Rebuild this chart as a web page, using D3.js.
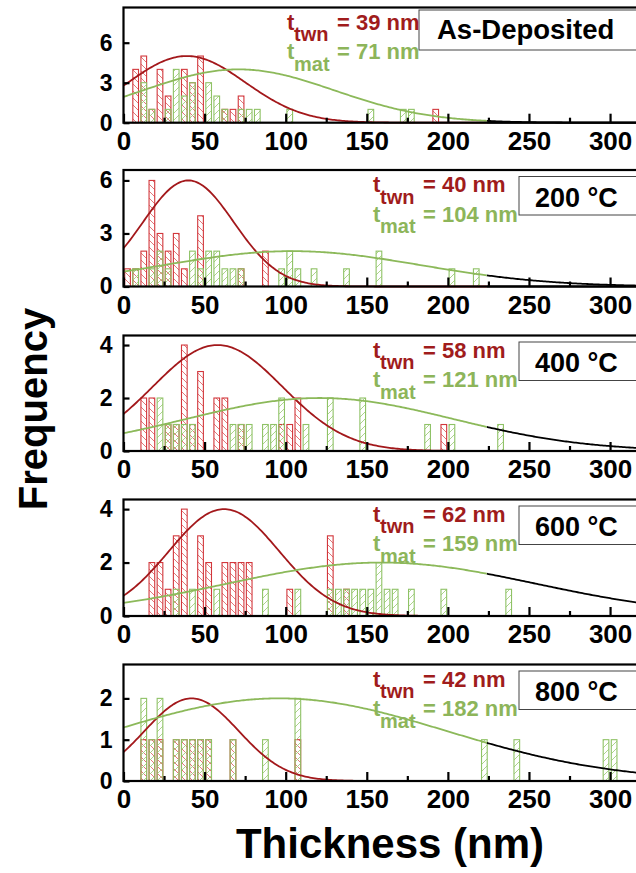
<!DOCTYPE html>
<html>
<head>
<meta charset="utf-8">
<script src="https://cdn.jsdelivr.net/npm/d3@7/dist/d3.min.js"></script>
<style>
  html, body { margin: 0; padding: 0; background: #fff; }
  svg { display: block; }
  text { font-family: "Liberation Sans", Arial, sans-serif; font-weight: bold; }
</style>
</head>
<body>
<svg id="chart" width="636" height="873"></svg>
<script>
// ---- data ---------------------------------------------------------------
// Panel titles (annealing condition)
const panelNames = ["As-Deposited", "200 \u00B0C", "400 \u00B0C", "600 \u00B0C", "800 \u00B0C"];
// Mean twin / matrix lamella thickness quoted in each panel (nm)
const twnMean = [39, 40, 58, 62, 42];
const matMean = [71, 104, 121, 159, 182];

// Histogram bins: [bin centre (nm), count], 5 nm bins
const twnAsDep = [[7.5,4],[12.5,5],[17.5,1],[22.5,4],[27.5,2],[37.5,4],[42.5,3],[47.5,5],[62.5,1],[67.5,1],[72.5,2],[192.5,1]];
const matAsDep = [[12.5,3],[17.5,1],[27.5,1],[32.5,4],[37.5,2],[42.5,3],[52.5,3],[57.5,2],[62.5,1],[72.5,1],[77.5,1],[82.5,1],[102.5,1],[152.5,1],[172.5,1],[177.5,1]];

const twn200 = [[2.5,1],[7.5,1],[12.5,2],[17.5,6],[22.5,3],[27.5,2],[32.5,3],[37.5,1],[47.5,4],[72.5,1],[87.5,2]];
const mat200 = [[7.5,1],[17.5,1],[22.5,2],[27.5,1],[42.5,2],[47.5,1],[52.5,2],[57.5,2],[62.5,1],[67.5,1],[72.5,1],[97.5,1],[102.5,2],[107.5,1],[117.5,1],[137.5,1],[157.5,2],[202.5,1],[217.5,1]];

const twn400 = [[12.5,2],[17.5,2],[27.5,1],[32.5,1],[37.5,4],[42.5,1],[47.5,3],[57.5,2],[62.5,2],[72.5,1],[97.5,1],[102.5,1],[107.5,2],[197.5,1]];
const mat400 = [[22.5,2],[27.5,1],[32.5,1],[37.5,1],[42.5,1],[67.5,1],[72.5,1],[77.5,1],[87.5,1],[92.5,1],[97.5,2],[112.5,1],[127.5,2],[147.5,2],[187.5,1],[202.5,1],[232.5,1]];

const twn600 = [[17.5,2],[22.5,2],[27.5,1],[32.5,3],[37.5,4],[47.5,3],[52.5,2],[62.5,2],[67.5,2],[72.5,2],[77.5,2],[102.5,1],[127.5,3],[137.5,1]];
const mat600 = [[32.5,1],[42.5,1],[57.5,1],[87.5,1],[107.5,1],[127.5,1],[132.5,1],[137.5,1],[142.5,1],[147.5,1],[152.5,1],[157.5,2],[162.5,1],[167.5,1],[177.5,1],[197.5,1],[237.5,1]];

const twn800 = [[12.5,1],[17.5,1],[22.5,1],[32.5,1],[37.5,1],[42.5,1],[47.5,1],[52.5,1],[67.5,1],[107.5,1]];
const mat800 = [[12.5,2],[17.5,1],[22.5,2],[32.5,1],[37.5,1],[42.5,1],[47.5,1],[52.5,1],[67.5,1],[87.5,1],[107.5,2],[222.5,1],[242.5,1],[297.5,1],[302.5,1]];

const twnBins = [twnAsDep, twn200, twn400, twn600, twn800];
const matBins = [matAsDep, mat200, mat400, mat600, mat800];

// Gaussian fits: centre (nm), peak height (counts), sigma (nm)
const twnFitCentre = [39, 40, 58, 62, 42];
const twnFitPeak   = [5, 6, 4, 4, 2];
const twnFitSigma  = [36, 28, 40, 34, 29];
const matFitCentre = [71, 104, 121, 159, 96];
const matFitPeak   = [4, 2, 2, 2, 2];
const matFitSigma  = [59, 79, 82, 95, 103];

// Axis ticks
const yTickVals = [[0,3,6],[0,3,6],[0,2,4],[0,2,4],[0,1,2]];
const yMax = [8.64, 6.59, 4.36, 4.36, 2.82];
const xLabelTicks = [0, 50, 100, 150, 200, 250, 300];
const xMinorTicks = [25, 75, 125, 175, 225, 275, 325];

// ---- layout ---------------------------------------------------------------
const panelTop  = [7.5, 170, 335.5, 499.5, 664.5];
const panelZero = [122.7, 286.5, 451, 616, 781];
const binWidth = 5, barFrac = 0.7, colourEnd = 224;

const C = {
  twnLine: "#a3181b", twnBar: "#d2373c", twnHatch: "#e0686b",
  matLine: "#8cb95a", matBar: "#8fc266", matHatch: "#a4cf80",
  twnText: "#a01c1c", matText: "#8db55a"
};

const svg = d3.select("#chart");
const x = d3.scaleLinear().domain([0, 320]).range([123.5, 642.5]);

// hatch patterns
const defs = svg.append("defs");
function hatch(id, colour, dir) {
  const p = defs.append("pattern").attr("id", id)
    .attr("patternUnits", "userSpaceOnUse").attr("width", 7).attr("height", 7);
  const d = dir > 0 ? "M-1,8 L8,-1 M-1,1 L1,-1 M6,8 L8,6" : "M-1,-1 L8,8 M-1,6 L1,8 M6,-1 L8,1";
  p.append("path").attr("d", d).attr("stroke", colour).attr("stroke-width", 0.9).attr("fill", "none");
}
hatch("hTwn", C.twnHatch, -1);
hatch("hMat", C.matHatch, 1);

const gauss = (c, a, s) => t => a * Math.exp(-((t - c) ** 2) / (2 * s * s));

panelNames.forEach((name, i) => {
  const y = d3.scaleLinear().domain([0, yMax[i]]).range([panelZero[i], panelTop[i]]);
  const g = svg.append("g");
  const [x0, x1] = x.range();

  const bw = x(binWidth * barFrac) - x(0);
  const bars = (data, fill, stroke) => g.append("g").selectAll("rect").data(data).join("rect")
    .attr("x", d => x(d[0]) - bw / 2).attr("width", bw)
    .attr("y", d => y(d[1])).attr("height", d => y(0) - y(d[1]))
    .attr("fill", fill).attr("stroke", stroke).attr("stroke-width", 1.1);
  bars(twnBins[i], "url(#hTwn)", C.twnBar);
  bars(matBins[i], "url(#hMat)", C.matBar);

  // fitted curves: coloured over the measured range, black beyond it
  const fits = [
    [gauss(twnFitCentre[i], twnFitPeak[i], twnFitSigma[i]), C.twnLine],
    [gauss(matFitCentre[i], matFitPeak[i], matFitSigma[i]), C.matLine]
  ];
  const line = d3.line().x(d => x(d[0])).y(d => y(d[1]));
  fits.forEach(([f, col]) => {
    const a = d3.range(0, colourEnd + 0.5, 1).map(t => [t, f(t)]);
    const b = d3.range(colourEnd, 321, 1).map(t => [t, f(t)]);
    g.append("path").attr("d", line(b)).attr("fill", "none").attr("stroke", "#000").attr("stroke-width", 1.8);
    g.append("path").attr("d", line(a)).attr("fill", "none").attr("stroke", col).attr("stroke-width", 1.8);
  });

  // frame
  g.append("rect").attr("x", x0).attr("y", panelTop[i]).attr("width", x1 - x0)
    .attr("height", panelZero[i] - panelTop[i]).attr("fill", "none")
    .attr("stroke", "#000").attr("stroke-width", 2.2);

  // x axis (inward ticks)
  const xa = g.append("g").attr("transform", `translate(0,${panelZero[i]})`)
    .call(d3.axisBottom(x).tickValues(xLabelTicks).tickSize(-9).tickPadding(9).tickFormat(d3.format("d")));
  g.append("g").attr("transform", `translate(0,${panelZero[i]})`)
    .call(d3.axisBottom(x).tickValues(xMinorTicks).tickSize(-5).tickFormat(""));
  // y axis
  const ya = g.append("g").attr("transform", `translate(${x0},0)`)
    .call(d3.axisLeft(y).tickValues(yTickVals[i]).tickSize(-6).tickPadding(11).tickFormat(d3.format("d")));
  g.selectAll(".domain").remove();
  g.selectAll(".tick line").attr("stroke", "#000").attr("stroke-width", 2.2);
  xa.selectAll("text").attr("font-size", 26).attr("fill", "#000")
    .attr("font-family", "Liberation Sans, Arial, sans-serif").attr("font-weight", "bold");
  ya.selectAll("text").attr("font-size", 23).attr("fill", "#000")
    .attr("font-family", "Liberation Sans, Arial, sans-serif").attr("font-weight", "bold");

  // condition box
  const first = i === 0;
  const bx = first ? 419 : 519;
  g.append("rect").attr("x", bx).attr("y", panelTop[i] + (first ? 2.5 : 6.5))
    .attr("width", 240).attr("height", first ? 40 : 38.5)
    .attr("fill", "#fff").attr("stroke", "#444").attr("stroke-width", 1);
  g.append("text").attr("x", first ? 437 : 535).attr("y", panelTop[i] + (first ? 31.5 : 36.5))
    .attr("font-size", first ? 27.5 : 27).text(name);

  // mean thickness labels
  const tx = first ? 287 : 373, ex = first ? 337 : 423;
  const rows = [[twnMean[i], "twn", C.twnText, 22], [matMean[i], "mat", C.matText, 51.5]];
  rows.forEach(([v, sub, col, dy]) => {
    const by = panelTop[i] + dy;
    const t = g.append("text").attr("fill", col).attr("font-size", 22);
    t.append("tspan").attr("x", tx).attr("y", by).text("t");
    t.append("tspan").attr("x", tx + 7).attr("y", by + 11.5).attr("font-size", 20).text(sub);
    t.append("tspan").attr("x", ex).attr("y", by).text(`= ${v} nm`);
  });
});

// axis titles
svg.append("text").attr("transform", "translate(47,409) rotate(-90)")
  .attr("text-anchor", "middle").attr("font-size", 40).text("Frequency");
svg.append("text").attr("x", 390).attr("y", 858)
  .attr("text-anchor", "middle").attr("font-size", 42).text("Thickness (nm)");
</script>
</body>
</html>
